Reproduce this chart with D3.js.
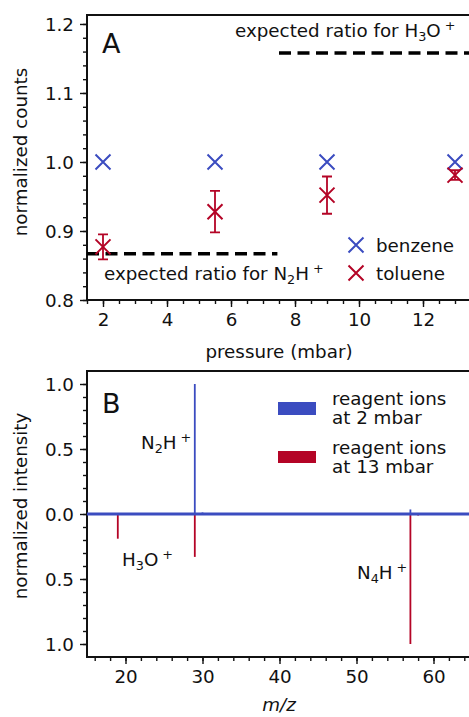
<!DOCTYPE html>
<html><head><meta charset="utf-8">
<script src="https://cdn.jsdelivr.net/npm/d3@7"></script>
<style>
html,body{margin:0;padding:0;background:#fff;}
svg{display:block;}
text{font-family:"DejaVu Sans",sans-serif;fill:#111;}
</style></head>
<body>
<svg id="chart" width="469" height="717"></svg>
<script>
// ---------- Panel A data ----------
const pressures = [2, 5.5, 9, 13];
const benzene = [1.0, 1.0, 1.0, 1.0];
const toluene = [0.877, 0.928, 0.952, 0.981];
const tolueneErr = [0.018, 0.030, 0.027, 0.007];
const expectedH3O = 1.158;   // from x=7.5 to right edge
const expectedN2H = 0.867;   // from left edge to x=7.4
const xTicksA = [2, 4, 6, 8, 10, 12];
const yTicksA = [0.8, 0.9, 1.0, 1.1, 1.2];

// ---------- Panel B data ----------
const spec2mbar = [[29, 1.0], [30, 0.012], [57, 0.035], [58, 0.006]];
const spec13mbar = [[19, 0.19], [29, 0.33], [57, 1.0], [58, 0.012]];
const xTicksB = [20, 30, 40, 50, 60];
const yTicksB = [-1.0, -0.5, 0.0, 0.5, 1.0];

const BLUE = "#3b4cc0", RED = "#b40426";
const FS = 18.3;
const svg = d3.select("#chart");

// ---------- Panel A ----------
const xA = d3.scaleLinear().domain([1.5, 13.5]).range([87, 471]);
const yA = d3.scaleLinear().domain([0.8, 1.213]).range([300, 15]);
const gA = svg.append("g");

function styleAxis(g){
  g.select(".domain").remove();
  g.selectAll(".tick line").attr("stroke","#111").attr("stroke-width",1.4);
  g.selectAll(".tick text").style("font-family","DejaVu Sans").style("font-size",FS+"px").attr("fill","#111");
}
gA.append("g").attr("transform","translate(0,300)")
  .call(d3.axisBottom(xA).tickValues(d3.range(1.5,13.51,0.5)).tickSize(4).tickFormat(""))
  .call(styleAxis);
gA.append("g").attr("transform","translate(87,0)")
  .call(d3.axisLeft(yA).tickValues(d3.range(0.8,1.2101,0.02)).tickSize(4).tickFormat(""))
  .call(styleAxis);
gA.append("g").attr("transform","translate(0,300)")
  .call(d3.axisBottom(xA).tickValues(xTicksA).tickSize(7).tickPadding(6).tickFormat(d3.format("d")))
  .call(styleAxis);
gA.append("g").attr("transform","translate(87,0)")
  .call(d3.axisLeft(yA).tickValues(yTicksA).tickSize(7).tickPadding(6).tickFormat(d3.format(".1f")))
  .call(styleAxis)
  .selectAll(".tick text").attr("dy","0.36em");
gA.append("path").attr("d",`M${xA.range()[1]},${yA(1.213)}H87V300H${xA.range()[1]}`)
  .attr("fill","none").attr("stroke","#111").attr("stroke-width",2);

gA.append("line").attr("x1",xA(7.5)).attr("x2",xA(13.5)).attr("y1",yA(expectedH3O)).attr("y2",yA(expectedH3O))
  .attr("stroke","#000").attr("stroke-width",3.5).attr("stroke-dasharray","12,6.5");
gA.append("line").attr("x1",xA(1.5)).attr("x2",xA(7.45)).attr("y1",yA(expectedN2H)).attr("y2",yA(expectedN2H))
  .attr("stroke","#000").attr("stroke-width",3.5).attr("stroke-dasharray","12,6.5");

function xMarker(g, cx, cy, color, r=7.5){
  g.append("path").attr("d",`M${cx-r},${cy-r}L${cx+r},${cy+r}M${cx-r},${cy+r}L${cx+r},${cy-r}`)
   .attr("stroke",color).attr("stroke-width",2).attr("fill","none");
}
pressures.forEach((p,i)=>{
  const x = xA(p);
  gA.append("path").attr("d",`M${x},${yA(toluene[i]-tolueneErr[i])}V${yA(toluene[i]+tolueneErr[i])}M${x-5},${yA(toluene[i]-tolueneErr[i])}h10M${x-5},${yA(toluene[i]+tolueneErr[i])}h10`)
    .attr("stroke",RED).attr("stroke-width",1.8).attr("fill","none");
});
pressures.forEach((p,i)=> xMarker(gA, xA(p), yA(benzene[i]), BLUE));
pressures.forEach((p,i)=> xMarker(gA, xA(p), yA(toluene[i]), RED));

function chemText(g, x, y, parts, anchor="start"){
  const t = g.append("text").attr("x",x).attr("y",y).style("font-size",FS+"px").attr("text-anchor",anchor);
  parts.forEach(p=>{
    const s = t.append("tspan").text(p.t);
    if(p.sub){ s.style("font-size",(FS*0.7)+"px").attr("dy",3.5); }
    else if(p.sup){ s.style("font-size",(FS*0.7)+"px").attr("dy",-7.5).attr("dx",4); }
    else if(p.reset){ s.attr("dy",p.reset); }
  });
  return t;
}
chemText(gA, 235, 37, [{t:"expected ratio for H"},{t:"3",sub:true},{t:"O",reset:-3.5},{t:"+",sup:true}]);
chemText(gA, 104, 280, [{t:"expected ratio for N"},{t:"2",sub:true},{t:"H",reset:-3.5},{t:"+",sup:true}]);
gA.append("text").attr("x",102).attr("y",53).style("font-size","27px").text("A");

xMarker(gA, 356, 245, BLUE);
xMarker(gA, 356, 273, RED);
gA.append("text").attr("x",376).attr("y",251.5).style("font-size",FS+"px").text("benzene");
gA.append("text").attr("x",376).attr("y",279.5).style("font-size",FS+"px").text("toluene");

gA.append("text").attr("transform","translate(27,152) rotate(-90)").attr("text-anchor","middle")
  .style("font-size",FS+"px").text("normalized counts");
gA.append("text").attr("x",279).attr("y",358).attr("text-anchor","middle").style("font-size",FS+"px").text("pressure (mbar)");

// ---------- Panel B ----------
const xB = d3.scaleLinear().domain([15, 65]).range([87, 472]);
const yB = d3.scaleLinear().domain([-1.1, 1.1]).range([657, 371]);
const gB = svg.append("g");

gB.append("g").attr("transform","translate(0,657)")
  .call(d3.axisBottom(xB).tickValues(d3.range(16,65,2)).tickSize(4).tickFormat(""))
  .call(styleAxis);
gB.append("g").attr("transform","translate(87,0)")
  .call(d3.axisLeft(yB).tickValues(d3.range(-10,11,1).map(v=>v/10)).tickSize(4).tickFormat(""))
  .call(styleAxis);
gB.append("g").attr("transform","translate(0,657)")
  .call(d3.axisBottom(xB).tickValues(xTicksB).tickSize(7).tickPadding(6).tickFormat(d3.format("d")))
  .call(styleAxis);
gB.append("g").attr("transform","translate(87,0)")
  .call(d3.axisLeft(yB).tickValues(yTicksB).tickSize(7).tickPadding(6).tickFormat(d=>Math.abs(d).toFixed(1)))
  .call(styleAxis)
  .selectAll(".tick text").attr("dy","0.36em");
gB.append("path").attr("d",`M${xB.range()[1]},371H87V657H${xB.range()[1]}`)
  .attr("fill","none").attr("stroke","#111").attr("stroke-width",2);

spec13mbar.forEach(d=>{
  gB.append("line").attr("x1",xB(d[0])).attr("x2",xB(d[0])).attr("y1",yB(0)).attr("y2",yB(-d[1]))
    .attr("stroke",RED).attr("stroke-width",1.8);
});
gB.append("line").attr("x1",xB(15)).attr("x2",xB(65)).attr("y1",yB(0)).attr("y2",yB(0))
  .attr("stroke",BLUE).attr("stroke-width",3);
spec2mbar.forEach(d=>{
  gB.append("line").attr("x1",xB(d[0])).attr("x2",xB(d[0])).attr("y1",yB(0)).attr("y2",yB(d[1]))
    .attr("stroke",BLUE).attr("stroke-width",1.8);
});

chemText(gB, 141, 449, [{t:"N"},{t:"2",sub:true},{t:"H",reset:-3.5},{t:"+",sup:true}]);
chemText(gB, 122, 566, [{t:"H"},{t:"3",sub:true},{t:"O",reset:-3.5},{t:"+",sup:true}]);
chemText(gB, 357, 579, [{t:"N"},{t:"4",sub:true},{t:"H",reset:-3.5},{t:"+",sup:true}]);
gB.append("text").attr("x",102).attr("y",413).style("font-size","27px").text("B");

gB.append("rect").attr("x",278).attr("y",402).attr("width",38).attr("height",13).attr("fill",BLUE);
gB.append("rect").attr("x",278).attr("y",451).attr("width",38).attr("height",12).attr("fill",RED);
[["reagent ions",405],["at 2 mbar",424],["reagent ions",454],["at 13 mbar",473]].forEach(d=>{
  gB.append("text").attr("x",332).attr("y",d[1]).style("font-size",FS+"px").text(d[0]);
});

gB.append("text").attr("transform","translate(27,506) rotate(-90)").attr("text-anchor","middle")
  .style("font-size",FS+"px").text("normalized intensity");
gB.append("text").attr("x",279).attr("y",711).attr("text-anchor","middle").style("font-size",FS+"px")
  .style("font-style","italic").text("m/z");
</script>
</body></html>
